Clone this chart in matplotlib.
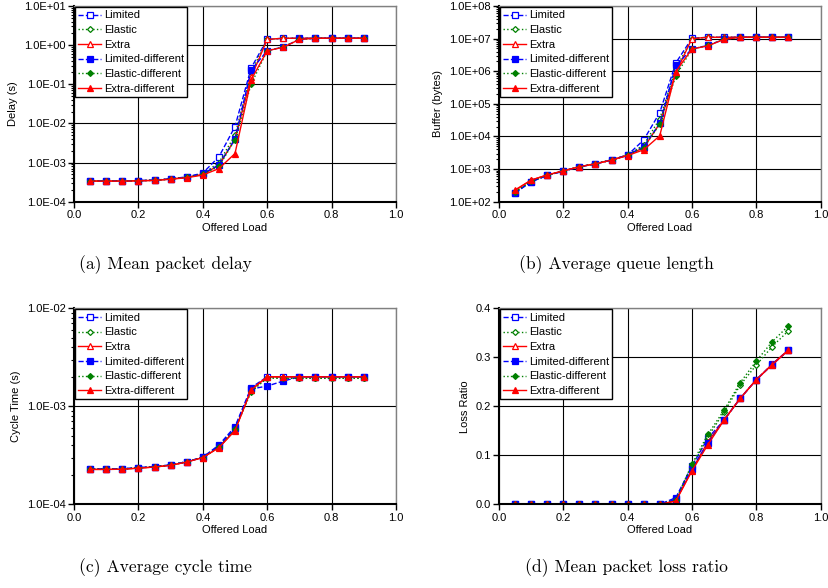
import matplotlib

matplotlib.use("Agg")
import matplotlib.pyplot as plt
from matplotlib.ticker import FixedLocator, FuncFormatter, LogLocator, NullFormatter

plt.rcParams["font.family"] = ["Liberation Sans", "DejaVu Sans"]

LOAD = [0.05, 0.10, 0.15, 0.20, 0.25, 0.30, 0.35, 0.40, 0.45,
        0.50, 0.55, 0.60, 0.65, 0.70, 0.75, 0.80, 0.85, 0.90]

SERIES = ["Limited", "Elastic", "Extra",
          "Limited-different", "Elastic-different", "Extra-different"]

# (a) mean packet delay, seconds
delay_limited = [3.4e-4, 3.4e-4, 3.4e-4, 3.45e-4, 3.55e-4, 3.85e-4, 4.3e-4, 5.4e-4, 1.4e-3,
                 8.3e-3, 0.26, 1.4, 1.5, 1.5, 1.5, 1.5, 1.5, 1.5]
delay_elastic = [3.4e-4, 3.4e-4, 3.4e-4, 3.45e-4, 3.55e-4, 3.8e-4, 4.2e-4, 5.1e-4, 1.0e-3,
                 5.0e-3, 0.2, 1.4, 1.5, 1.5, 1.5, 1.5, 1.5, 1.5]
delay_extra = [3.4e-4, 3.4e-4, 3.4e-4, 3.45e-4, 3.5e-4, 3.8e-4, 4.2e-4, 5.0e-4, 8.5e-4,
               4.0e-3, 0.15, 1.4, 1.5, 1.5, 1.5, 1.5, 1.5, 1.5]
delay_limited_diff = [3.4e-4, 3.4e-4, 3.4e-4, 3.45e-4, 3.55e-4, 3.8e-4, 4.2e-4, 5.2e-4, 8.7e-4,
                      4.0e-3, 0.23, 0.72, 0.9, 1.4, 1.5, 1.5, 1.5, 1.5]
delay_elastic_diff = [3.4e-4, 3.4e-4, 3.4e-4, 3.45e-4, 3.5e-4, 3.8e-4, 4.2e-4, 5.0e-4, 8.0e-4,
                      3.8e-3, 0.1, 0.72, 0.9, 1.4, 1.5, 1.5, 1.5, 1.5]
delay_extra_diff = [3.35e-4, 3.35e-4, 3.35e-4, 3.4e-4, 3.5e-4, 3.75e-4, 4.1e-4, 4.8e-4, 7.0e-4,
                    1.7e-3, 0.13, 0.72, 0.88, 1.4, 1.5, 1.5, 1.5, 1.5]

# (b) average queue length, bytes
buf_limited = [190, 410, 640, 870, 1180, 1450, 1900, 2700, 7800,
               54000, 1.8e6, 1.02e7, 1.1e7, 1.1e7, 1.1e7, 1.1e7, 1.1e7, 1.1e7]
buf_elastic = [200, 420, 650, 870, 1180, 1450, 1900, 2700, 5500,
               35000, 1.2e6, 1.0e7, 1.1e7, 1.1e7, 1.1e7, 1.1e7, 1.1e7, 1.1e7]
buf_extra = [220, 460, 660, 880, 1180, 1450, 1900, 2700, 4500,
             25000, 9.0e5, 1.0e7, 1.1e7, 1.1e7, 1.1e7, 1.1e7, 1.1e7, 1.1e7]
buf_limited_diff = [185, 410, 640, 860, 1170, 1450, 1900, 2700, 4900,
                    25000, 1.5e6, 4.8e6, 6.2e6, 9.5e6, 1.1e7, 1.1e7, 1.1e7, 1.1e7]
buf_elastic_diff = [200, 420, 650, 870, 1180, 1450, 1900, 2650, 4500,
                    24000, 7.2e5, 4.8e6, 6.2e6, 9.5e6, 1.1e7, 1.1e7, 1.1e7, 1.1e7]
buf_extra_diff = [230, 460, 660, 880, 1180, 1450, 1880, 2600, 3900,
                  10500, 9.8e5, 4.8e6, 6.0e6, 9.5e6, 1.1e7, 1.1e7, 1.1e7, 1.1e7]

# (c) average cycle time, seconds
cyc_limited = [2.29e-4, 2.29e-4, 2.3e-4, 2.36e-4, 2.42e-4, 2.52e-4, 2.72e-4, 3.02e-4, 4.03e-4,
               6.2e-4, 1.55e-3, 2.0e-3, 2.0e-3, 2.0e-3, 2.0e-3, 2.0e-3, 2.0e-3, 2.0e-3]
cyc_elastic = [2.29e-4, 2.29e-4, 2.3e-4, 2.36e-4, 2.42e-4, 2.52e-4, 2.72e-4, 3.02e-4, 3.9e-4,
               5.9e-4, 1.45e-3, 1.95e-3, 1.93e-3, 1.93e-3, 1.93e-3, 1.93e-3, 1.93e-3, 1.93e-3]
cyc_extra = [2.27e-4, 2.27e-4, 2.28e-4, 2.34e-4, 2.4e-4, 2.5e-4, 2.7e-4, 3.0e-4, 3.8e-4,
             5.7e-4, 1.47e-3, 2.0e-3, 2.0e-3, 2.0e-3, 2.0e-3, 2.0e-3, 2.0e-3, 2.0e-3]
cyc_limited_diff = [2.29e-4, 2.29e-4, 2.3e-4, 2.36e-4, 2.42e-4, 2.52e-4, 2.72e-4, 3.02e-4, 3.9e-4,
                    6.0e-4, 1.5e-3, 1.61e-3, 1.81e-3, 2.0e-3, 2.0e-3, 2.0e-3, 2.0e-3, 2.0e-3]
cyc_elastic_diff = [2.28e-4, 2.28e-4, 2.29e-4, 2.35e-4, 2.41e-4, 2.51e-4, 2.71e-4, 3.0e-4, 3.8e-4,
                    5.8e-4, 1.4e-3, 1.95e-3, 1.93e-3, 1.93e-3, 1.93e-3, 1.93e-3, 1.93e-3, 1.93e-3]
cyc_extra_diff = [2.27e-4, 2.27e-4, 2.28e-4, 2.34e-4, 2.4e-4, 2.5e-4, 2.7e-4, 3.0e-4, 3.78e-4,
                  5.65e-4, 1.47e-3, 2.0e-3, 2.0e-3, 2.0e-3, 2.0e-3, 2.0e-3, 2.0e-3, 2.0e-3]

# (d) mean packet loss ratio
loss_limited = [0, 0, 0, 0, 0, 0, 0, 0, 0, 0, 0.0135, 0.078, 0.135, 0.172, 0.216, 0.254, 0.286, 0.315]
loss_elastic = [0, 0, 0, 0, 0, 0, 0, 0, 0, 0, 0.010, 0.078, 0.138, 0.188, 0.243, 0.284, 0.322, 0.354]
loss_extra = [0, 0, 0, 0, 0, 0, 0, 0, 0, 0, 0.007, 0.070, 0.128, 0.172, 0.216, 0.254, 0.286, 0.315]
loss_limited_diff = [0, 0, 0, 0, 0, 0, 0, 0, 0, 0, 0.010, 0.073, 0.125, 0.172, 0.216, 0.254, 0.285, 0.314]
loss_elastic_diff = [0, 0, 0, 0, 0, 0, 0, 0, 0, 0, 0.008, 0.082, 0.143, 0.192, 0.248, 0.292, 0.332, 0.364]
loss_extra_diff = [0, 0, 0, 0, 0, 0, 0, 0, 0, 0, 0.0067, 0.068, 0.122, 0.172, 0.216, 0.254, 0.285, 0.314]

STYLES = [
    dict(color="#0000ff", ls="--", marker="s", mfc="white", ms=4.5),
    dict(color="#008000", ls=":", marker="D", mfc="white", ms=3.0),
    dict(color="#ff0000", ls="-", marker="^", mfc="white", ms=5.0),
    dict(color="#0000ff", ls="--", marker="s", mfc="#0000ff", ms=4.5),
    dict(color="#008000", ls=":", marker="D", mfc="#008000", ms=3.0),
    dict(color="#ff0000", ls="-", marker="^", mfc="#ff0000", ms=5.0),
]


def sci_fmt(v, pos):
    return f"{v:.1E}"


def draw(ax, series, ylabel, log, ylim):
    for name, ys, st in zip(SERIES, series, STYLES):
        ax.plot(LOAD, ys, label=name, color=st["color"], ls=st["ls"], lw=1.0,
                marker=st["marker"], ms=st["ms"], mfc=st["mfc"], mec=st["color"], mew=0.9)
    ax.set_xlim(0, 1.0)
    ax.set_xticks([0.0, 0.2, 0.4, 0.6, 0.8, 1.0])
    ax.xaxis.set_major_formatter(FuncFormatter(lambda v, p: f"{v:.1f}"))
    if log:
        ax.set_yscale("log")
        ax.set_ylim(*ylim)
        ax.yaxis.set_major_locator(LogLocator(base=10, numticks=20))
        ax.yaxis.set_minor_locator(LogLocator(base=10, subs=range(2, 10), numticks=20))
        ax.yaxis.set_minor_formatter(NullFormatter())
        ax.yaxis.set_major_formatter(FuncFormatter(sci_fmt))
    else:
        ax.set_ylim(*ylim)
        ax.yaxis.set_major_locator(FixedLocator([0.0, 0.1, 0.2, 0.3, 0.4]))
        ax.yaxis.set_major_formatter(FuncFormatter(lambda v, p: f"{v:.1f}"))
    ax.grid(True, which="major", color="black", lw=0.8)
    ax.set_axisbelow(True)
    ax.tick_params(which="major", direction="out", length=4, width=1, labelsize=8, pad=2)
    ax.tick_params(which="minor", direction="out", length=2.5, width=0.8)
    for side in ("top", "right"):
        ax.spines[side].set_color("#808080")
        ax.spines[side].set_linewidth(1.0)
    for side in ("left", "bottom"):
        ax.spines[side].set_color("black")
        ax.spines[side].set_linewidth(1.5)
    ax.set_xlabel("Offered Load", fontsize=8, labelpad=2)
    ax.set_ylabel(ylabel, fontsize=8)
    leg = ax.legend(loc="upper left", fontsize=8, frameon=True, fancybox=False,
                    borderaxespad=0.1, borderpad=0.3, labelspacing=0.42,
                    handlelength=2.0, handletextpad=0.3)
    leg.get_frame().set_edgecolor("black")
    leg.get_frame().set_linewidth(1.0)
    leg.get_frame().set_alpha(1.0)


fig = plt.figure(figsize=(8.29, 5.88), dpi=100)
W, H = 829, 588
boxes = [(74, 6, 396, 201.7), (499, 6, 820.5, 201.7),
         (74, 308.3, 396, 504.3), (499, 308.3, 820.5, 504.3)]
axes = [fig.add_axes([l / W, 1 - b / H, (r - l) / W, (b - t) / H]) for l, t, r, b in boxes]

draw(axes[0], [delay_limited, delay_elastic, delay_extra,
               delay_limited_diff, delay_elastic_diff, delay_extra_diff],
     "Delay (s)", True, (1e-4, 10))
draw(axes[1], [buf_limited, buf_elastic, buf_extra,
               buf_limited_diff, buf_elastic_diff, buf_extra_diff],
     "Buffer (bytes)", True, (1e2, 1e8))
draw(axes[2], [cyc_limited, cyc_elastic, cyc_extra,
               cyc_limited_diff, cyc_elastic_diff, cyc_extra_diff],
     "Cycle Time (s)", True, (1e-4, 1e-2))
draw(axes[3], [loss_limited, loss_elastic, loss_extra,
               loss_limited_diff, loss_elastic_diff, loss_extra_diff],
     "Loss Ratio", False, (0.0, 0.4))

captions = [("(a) Mean packet delay", 165, 265), ("(b) Average queue length", 616, 265),
            ("(c) Average cycle time", 165, 568), ("(d) Mean packet loss ratio", 626, 568)]
for txt, x, y in captions:
    fig.text(x / W, 1 - y / H, txt, ha="center", va="center", fontsize=12.6, family="cmr10")

fig.savefig("out.png", dpi=100)
